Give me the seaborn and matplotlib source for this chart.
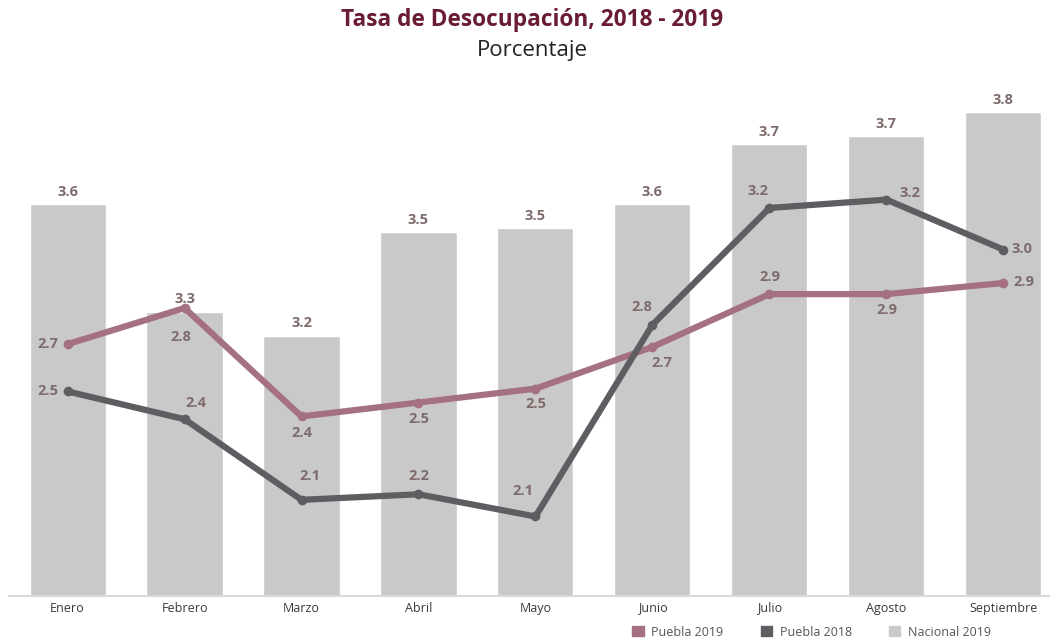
import numpy as np
import matplotlib
matplotlib.use("Agg")
import matplotlib.pyplot as plt
from matplotlib.patches import Patch
import seaborn as sns

# datos
meses = ["Enero", "Febrero", "Marzo", "Abril", "Mayo", "Junio", "Julio", "Agosto", "Septiembre"]
nacional_2019 = [3.56, 3.29, 3.23, 3.49, 3.50, 3.56, 3.71, 3.73, 3.79]
puebla_2019 = [2.70, 2.83, 2.44, 2.49, 2.54, 2.69, 2.88, 2.88, 2.92]
puebla_2018 = [2.53, 2.43, 2.14, 2.16, 2.08, 2.77, 3.19, 3.22, 3.04]

# colores
c_bar = "#c9c9c9"
c_p19 = "#a5707f"
c_p18 = "#5e5e62"
c_lbl = "#7f6b6b"
c_title = "#691c32"

sns.set_style("white")
plt.rcParams["font.family"] = ["Open Sans", "DejaVu Sans"]

fig = plt.figure(figsize=(10.5, 6.43), dpi=100)
ax = fig.add_axes([0.0086, 0.0731, 0.9905, 0.779])

sns.barplot(x=meses, y=nacional_2019, color=c_bar, width=0.65, saturation=1, ax=ax)
ax.set_ylim(2.58, 3.8325)
ax.set_xlim(-0.5, 8.39)
ax.bar_label(ax.containers[0], labels=[f"{v:.1f}" for v in nacional_2019],
             padding=4, fontsize=10.5, fontweight="bold", color=c_lbl)

# lineas de Puebla en eje secundario
ax2 = ax.twinx()
xs = np.arange(len(meses))
sns.lineplot(x=xs, y=puebla_2019, color=c_p19, lw=4.5, marker="o", markersize=7,
             markeredgewidth=0, sort=False, ax=ax2)
sns.lineplot(x=xs, y=puebla_2018, color=c_p18, lw=4.5, marker="o", markersize=7,
             markeredgewidth=0, sort=False, ax=ax2)
ax2.set_ylim(1.794, 3.596)
ax2.set_xlim(-0.5, 8.39)

off19 = [(-20, 0), (-4, -29), (0, -17), (0, -16), (0, -15), (9, -16), (0, 17), (0, -16), (20, 1)]
off18 = [(-20, 0), (11, 16), (8, 24), (0, 18), (-13, 25), (-11, 18), (-11, 17), (24, 7), (19, 1)]
for serie, offs in [(puebla_2019, off19), (puebla_2018, off18)]:
    for i, v in enumerate(serie):
        ax2.annotate(f"{v:.1f}", (i, v), xytext=offs[i], textcoords="offset pixels",
                     ha="center", va="center", fontsize=10.5, fontweight="bold", color=c_lbl)

for a in (ax, ax2):
    for s in ["top", "left", "right"]:
        a.spines[s].set_visible(False)
    a.set_yticks([])
ax2.spines["bottom"].set_visible(False)
ax.spines["bottom"].set_color("#d9d9d9")
ax.spines["bottom"].set_linewidth(1.5)
ax.tick_params(axis="x", length=0, pad=4, labelsize=9, labelcolor="#3a3a3a")
ax.set_xticks(np.arange(-0.5, 8.5, 1), minor=True)
ax.tick_params(axis="x", which="minor", length=5, color="#eeeeee", width=1)
ax.set_xlabel("")

fig.text(0.507, 0.969, "Tasa de Desocupación, 2018 - 2019", ha="center", va="center",
         fontsize=16.3, fontweight="bold", color=c_title)
fig.text(0.507, 0.922, "Porcentaje", ha="center", va="center", fontsize=16, color="#222222")

handles = [Patch(color=c_p19, label="Puebla 2019"),
           Patch(color=c_p18, label="Puebla 2018"),
           Patch(color=c_bar, label="Nacional 2019")]
fig.legend(handles=handles, loc="center", bbox_to_anchor=(0.773, 0.017), ncol=3,
           frameon=False, fontsize=9, handlelength=0.9, handleheight=0.9,
           columnspacing=3.0, handletextpad=0.6, labelcolor="#555555")

fig.savefig("out.png", dpi=100)
